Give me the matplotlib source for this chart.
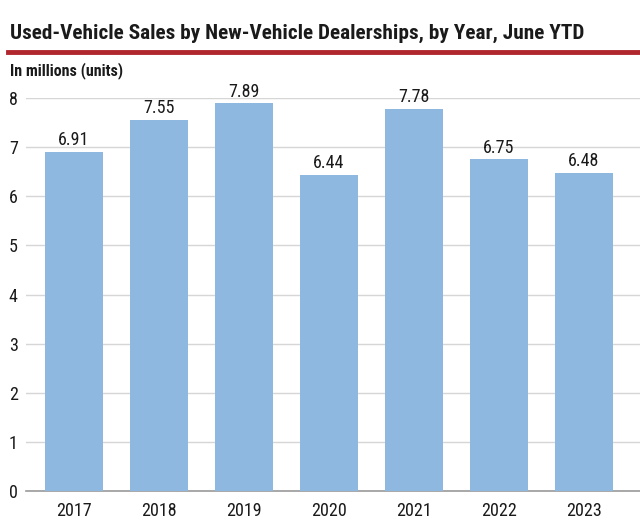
import matplotlib
matplotlib.use("Agg")
import matplotlib.pyplot as plt

years = ["2017", "2018", "2019", "2020", "2021", "2022", "2023"]
sales = [6.91, 7.55, 7.89, 6.44, 7.78, 6.75, 6.48]
yticks = [0, 1, 2, 3, 4, 5, 6, 7, 8]

plt.rcParams['font.family'] = ['Roboto Condensed', 'DejaVu Sans']

fig = plt.figure(figsize=(6.4, 5.26), dpi=100, facecolor="white")
ax = fig.add_axes([0.0406, 0.0665, 0.9594, 0.7472])

x = list(range(len(years)))
ax.bar(x, sales, width=0.68, color="#8fb8e1", zorder=3)
for xi, v in zip(x, sales):
    ax.annotate(f"{v:.2f}", (xi, v), xytext=(0, 2), textcoords="offset points",
                ha="center", va="bottom", fontsize=13, color="#1a1a1a", clip_on=False)

ax.set_xlim(-0.565, 6.66)
ax.set_ylim(0, 8)
ax.set_yticks(yticks)
ax.set_xticks(x, years)
ax.grid(axis="y", color="#d6d6d6", linewidth=1, zorder=0)
for s in ["top", "right", "left"]:
    ax.spines[s].set_visible(False)
ax.spines["bottom"].set_color("#9a9a9a")
ax.spines["bottom"].set_linewidth(1.2)
ax.tick_params(axis="both", length=0, labelsize=13, colors="#1a1a1a")
ax.tick_params(axis="x", pad=8)
ax.tick_params(axis="y", pad=6)

fig.text(0.015, 0.937, "Used-Vehicle Sales by New-Vehicle Dealerships, by Year, June YTD",
         fontsize=15.3, fontweight="bold", color="#1a1a1a", va="center", ha="left")
fig.add_artist(plt.Line2D([0.0125, 1.0], [0.902, 0.902], color="#b0282e", linewidth=3.5))
fig.text(0.016, 0.866, "In millions (units)", fontsize=11.5, fontweight="bold",
         color="#1a1a1a", va="center", ha="left")

fig.savefig("out.png", dpi=100, facecolor=fig.get_facecolor())
